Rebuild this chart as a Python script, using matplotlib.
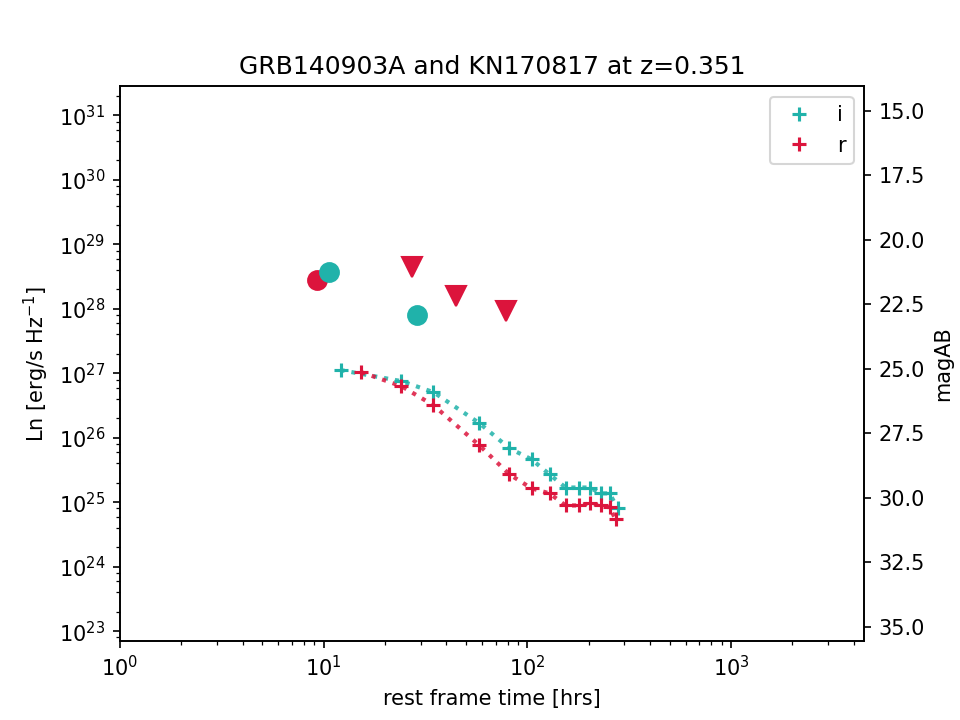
import numpy as np
import matplotlib
matplotlib.use("Agg")
import matplotlib.pyplot as plt
from matplotlib.ticker import LogLocator, NullFormatter

# kilonova light curves (rest frame hours, Ln)
t_i = [12.1, 24.1, 34.6, 58.2, 81.7, 104.9, 128.6, 154.1, 178.5, 202.2, 229.0, 253.6, 277.7]
L_i = [1.12e27, 7.55e26, 5.09e26, 1.68e26, 6.85e25, 4.62e25, 2.70e25, 1.69e25, 1.69e25,
       1.69e25, 1.37e25, 1.37e25, 8.0e24]
t_r = [15.3, 24.1, 34.6, 58.2, 81.7, 104.9, 128.6, 154.1, 178.5, 202.2, 229.0, 253.6, 271.4]
L_r = [1.04e27, 6.3e26, 3.19e26, 7.6e25, 2.70e25, 1.64e25, 1.37e25, 8.9e24, 8.9e24,
       9.55e24, 8.9e24, 8.3e24, 5.4e24]

# GRB140903A detections and upper limits
grb_det_t_i = [10.66, 28.8]
grb_det_L_i = [3.74e28, 8.0e27]
grb_det_t_r = [9.3]
grb_det_L_r = [2.8e28]
grb_lim_t_r = [27.3, 44.9, 79.0]
grb_lim_L_r = [4.48e28, 1.58e28, 9.25e27]

teal = '#20B2AA'
red = '#DC143C'

fig, ax = plt.subplots(figsize=(6.4, 4.8), dpi=150)

ax.plot(t_i, L_i, ':', color=teal, lw=2, alpha=0.85)
ax.plot(t_r, L_r, ':', color=red, lw=2, alpha=0.85)
ax.plot(t_i, L_i, '+', color=teal, ms=7, mew=1.5, label='i')
ax.plot(t_r, L_r, '+', color=red, ms=7, mew=1.5, label='r')

ax.plot(grb_det_t_r, grb_det_L_r, 'o', color=red, ms=9)
ax.plot(grb_det_t_i, grb_det_L_i, 'o', color=teal, ms=9)
ax.plot(grb_lim_t_r, grb_lim_L_r, 'v', color=red, ms=10)

ax.set_xscale('log')
ax.set_yscale('log')
ax.set_xlim(1, 4500)
ax.set_ylim(10**22.85, 10**31.45)
ax.yaxis.set_minor_locator(LogLocator(base=10, subs=(2, 4, 6, 8), numticks=50))
ax.yaxis.set_minor_formatter(NullFormatter())
ax.set_xlabel('rest frame time [hrs]')
ax.set_ylabel('Ln [erg/s Hz$^{-1}$]')
ax.set_title('GRB140903A and KN170817 at z=0.351')
ax.legend(loc='upper right')

ax2 = ax.twinx()
ax2.set_ylim(35.55, 14.05)
ax2.set_ylabel('magAB')

plt.savefig('out.png')
